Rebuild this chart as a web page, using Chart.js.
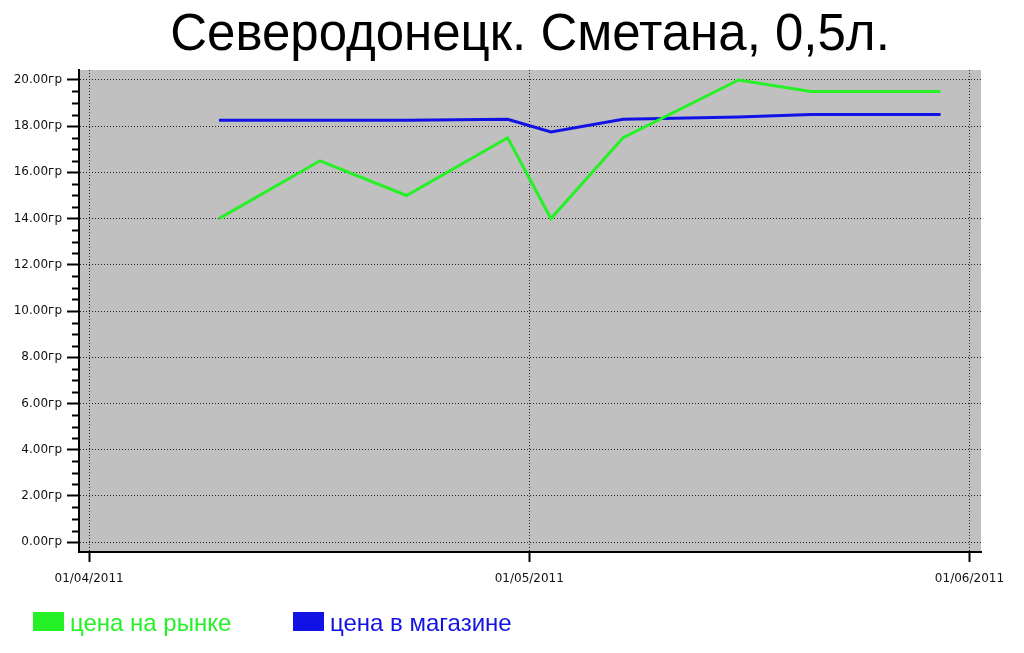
<!DOCTYPE html>
<html><head><meta charset="utf-8">
<script src="https://cdn.jsdelivr.net/npm/chart.js@4.4.0/dist/chart.umd.min.js"></script>
<style>html,body{margin:0;padding:0;background:#fff;overflow:hidden}canvas{display:block}</style>
</head><body>
<canvas id="c" width="1024" height="653"></canvas>
<script>
const titleText = 'Северодонецк. Сметана, 0,5л.';
const dates = ['2011-04-10','2011-04-17','2011-04-23','2011-04-30','2011-05-03','2011-05-08','2011-05-16','2011-05-21','2011-05-30'];
const marketPrices = [14.0, 16.5, 15.0, 17.5, 14.0, 17.5, 20.0, 19.5, 19.5];
const storePrices = [18.25, 18.25, 18.25, 18.3, 17.75, 18.3, 18.4, 18.5, 18.5];
const seriesLabels = ['цена на рынке', 'цена в магазине'];
const seriesColors = ['#26f026', '#1212e4'];
const axisStart = '2011-04-01';
const axisEnd = '2011-06-01';
const xTickLabels = ['01/04/2011', '01/05/2011', '01/06/2011'];
const yTickValues = [0, 2, 4, 6, 8, 10, 12, 14, 16, 18, 20];
const yUnit = 'гр';

function dayOf(d) { return (Date.parse(d) - Date.parse(axisStart)) / 86400000; }
const xEnd = dayOf(axisEnd);
const xTickPositions = [0, xEnd / 2, xEnd];

const bgPlugin = {
  id: 'bg',
  beforeDraw(chart) {
    const {ctx, chartArea: a} = chart;
    ctx.save();
    ctx.fillStyle = '#fff';
    ctx.fillRect(0, 0, chart.width, chart.height);
    ctx.fillStyle = '#c0c0c0';
    ctx.fillRect(a.left, a.top, a.right - a.left, a.bottom - a.top);
    ctx.restore();
  }
};

const decoPlugin = {
  id: 'deco',
  afterDraw(chart) {
    const {ctx, chartArea: a} = chart;
    const ys = chart.scales.y;
    ctx.save();
    // minor ticks
    ctx.strokeStyle = '#000';
    ctx.lineWidth = 2;
    for (let i = 0; i < yTickValues.length - 1; i++) {
      const v0 = yTickValues[i], v1 = yTickValues[i + 1];
      for (let k = 1; k < 4; k++) {
        const py = Math.round(ys.getPixelForValue(v0 + (v1 - v0) * k / 4)) + 0.5;
        ctx.beginPath();
        ctx.moveTo(a.left - 7, py);
        ctx.lineTo(a.left, py);
        ctx.stroke();
      }
    }
    // title
    ctx.fillStyle = '#000';
    ctx.font = '51px "Liberation Sans", Arial, sans-serif';
    ctx.textAlign = 'center';
    ctx.textBaseline = 'alphabetic';
    ctx.fillText(titleText, (a.left + a.right) / 2, 50);
    // legend
    ctx.font = '24px "Liberation Sans", Arial, sans-serif';
    ctx.textAlign = 'left';
    const lx = [33, 293];
    chart.data.datasets.forEach((ds, i) => {
      ctx.fillStyle = ds.borderColor;
      ctx.fillRect(lx[i], 612, 31, 19);
      ctx.fillText(ds.label, lx[i] + 37, 631);
    });
    ctx.restore();
  }
};

new Chart(document.getElementById('c'), {
  type: 'line',
  data: {
    datasets: [
      { label: seriesLabels[0], data: dates.map((d, i) => ({x: dayOf(d), y: marketPrices[i]})),
        borderColor: seriesColors[0], backgroundColor: seriesColors[0], borderWidth: 3, pointRadius: 0, tension: 0, fill: false },
      { label: seriesLabels[1], data: dates.map((d, i) => ({x: dayOf(d), y: storePrices[i]})),
        borderColor: seriesColors[1], backgroundColor: seriesColors[1], borderWidth: 3, pointRadius: 0, tension: 0, fill: false }
    ]
  },
  options: {
    responsive: false,
    animation: false,
    devicePixelRatio: 1,
    layout: { padding: { top: 70, right: 43, left: 0, bottom: 0 } },
    plugins: { legend: { display: false }, title: { display: false }, tooltip: { enabled: false } },
    scales: {
      x: {
        type: 'linear',
        min: -0.7, max: 61.8,
        afterBuildTicks(s) { s.ticks = xTickPositions.map(v => ({value: v})); },
        afterFit(s) { s.height = 101; },
        ticks: {
          callback: (v, i) => xTickLabels[i],
          font: { family: 'DejaVu Sans', size: 12 }, color: '#111', padding: 10, maxRotation: 0, autoSkip: false
        },
        grid: { color: '#222', lineWidth: 1, tickLength: 10, tickColor: '#000', tickWidth: 2, tickBorderDash: [] },
        border: { display: true, color: '#000', width: 2, dash: [1, 2] }
      },
      y: {
        type: 'linear',
        min: -0.43, max: 20.43,
        afterBuildTicks(s) { s.ticks = yTickValues.map(v => ({value: v})); },
        afterFit(s) { s.width = 79; },
        ticks: {
          callback: v => v.toFixed(2) + yUnit,
          font: { family: 'DejaVu Sans', size: 12 }, color: '#111', padding: 5, autoSkip: false
        },
        grid: { color: '#222', lineWidth: 1, tickLength: 12, tickColor: '#000', tickWidth: 2, tickBorderDash: [] },
        border: { display: true, color: '#000', width: 2, dash: [1, 2] }
      }
    }
  },
  plugins: [bgPlugin, decoPlugin]
});
</script>
</body></html>
